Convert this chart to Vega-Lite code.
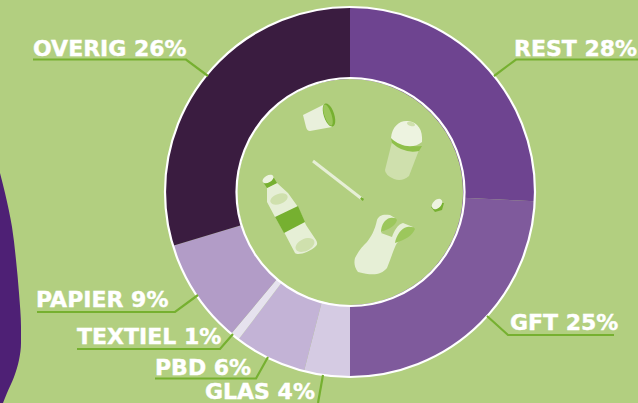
{"$schema":"https://vega.github.io/schema/vega-lite/v6.json","width":638,"height":403,"autosize":"none","padding":0,"background":"#b2cf80","config":{"view":{"stroke":null}},
"datasets":{
"slices":[{"name":"REST","share":25.8,"order":1},{"name":"GFT","share":24.2,"order":2},{"name":"GLAS","share":4.0,"order":3},{"name":"PBD","share":6.3,"order":4},{"name":"TEXTIEL","share":0.8,"order":5},{"name":"PAPIER","share":9.2,"order":6},{"name":"OVERIG","share":29.7,"order":7}],
"labels":[{"label":"OVERIG 26%","px":33,"py":56},{"label":"REST 28%","px":514,"py":56},{"label":"GFT 25%","px":510,"py":330},{"label":"PAPIER 9%","px":36,"py":307},{"label":"TEXTIEL 1%","px":77,"py":344},{"label":"PBD 6%","px":155,"py":375},{"label":"GLAS 4%","px":205,"py":399}],
"leaders":[{"k":"OVERIG","i":1,"px":33,"py":59.5},{"k":"OVERIG","i":2,"px":186,"py":59.5},{"k":"OVERIG","i":3,"px":208,"py":76},{"k":"REST","i":1,"px":638,"py":59.5},{"k":"REST","i":2,"px":516,"py":59.5},{"k":"REST","i":3,"px":494,"py":76},{"k":"GFT","i":1,"px":614,"py":335},{"k":"GFT","i":2,"px":508,"py":335},{"k":"GFT","i":3,"px":487,"py":316},{"k":"PAPIER","i":1,"px":37,"py":312},{"k":"PAPIER","i":2,"px":175,"py":312},{"k":"PAPIER","i":3,"px":198,"py":295},{"k":"TEXTIEL","i":1,"px":77,"py":349},{"k":"TEXTIEL","i":2,"px":220,"py":349},{"k":"TEXTIEL","i":3,"px":233,"py":334},{"k":"PBD","i":1,"px":155,"py":378.5},{"k":"PBD","i":2,"px":256,"py":378.5},{"k":"PBD","i":3,"px":268,"py":357},{"k":"GLAS","i":1,"px":323,"py":375},{"k":"GLAS","i":2,"px":318,"py":403}],
"blob":[{"ex":0,"ey":173},{"ex":5,"ey":193},{"ex":12,"ey":227},{"ex":16,"ey":260},{"ex":19,"ey":293},{"ex":21,"ey":327},{"ex":21,"ey":343},{"ex":19,"ey":360},{"ex":14,"ey":377},{"ex":7,"ey":393},{"ex":3,"ey":403}],
"parts":[
{"part":"bottleBody","ax":290,"ay":215},{"part":"bottleBand","ax":290,"ay":215},{"part":"bottleCap","ax":290,"ay":215},{"part":"bottleCapTop","ax":290,"ay":215},{"part":"bottleOvalA","ax":290,"ay":215},{"part":"bottleOvalB","ax":290,"ay":215},
{"part":"cupBody","ax":317,"ay":117},{"part":"cupRim","ax":317,"ay":117},{"part":"cupInner","ax":317,"ay":117},
{"part":"shakerBody","ax":404,"ay":150},{"part":"shakerBand","ax":404,"ay":150},{"part":"shakerLid","ax":404,"ay":150},{"part":"shakerHole","ax":404,"ay":150},
{"part":"straw","ax":338,"ay":180},{"part":"strawTip","ax":338,"ay":180},
{"part":"capSide","ax":438,"ay":206},{"part":"capTop","ax":438,"ay":206},
{"part":"bagBody","ax":385,"ay":245},{"part":"bagHandleA","ax":385,"ay":245},{"part":"bagHandleB","ax":385,"ay":245}]
},
"encoding":{},
"layer":[
{"data":{"name":"blob"},"mark":{"type":"area","orient":"horizontal","interpolate":"monotone","color":"#4e2075"},"encoding":{"y":{"field":"ey","type":"quantitative","scale":{"domain":[0,403],"reverse":true,"nice":false,"zero":false},"axis":null},"x":{"field":"ex","type":"quantitative","scale":{"domain":[0,638],"nice":false,"zero":false},"axis":null},"x2":{"datum":0}}},
{"data":{"name":"slices"},"mark":{"type":"arc","innerRadius":113,"outerRadius":185},"encoding":{"x":{"datum":350,"type":"quantitative"},"y":{"datum":192,"type":"quantitative"},"theta":{"field":"share","type":"quantitative","stack":true},"order":{"field":"order"},"color":{"field":"name","type":"nominal","legend":null,"scale":{"domain":["REST","GFT","GLAS","PBD","TEXTIEL","PAPIER","OVERIG"],"range":["#6e4490","#7f5a9c","#d5cbe3","#c3b3d6","#e6e2ee","#b29cc7","#3a1c40"]}}}},
{"data":{"values":[{"ring":"outer"}]},"mark":{"type":"point","filled":false,"stroke":"#ffffff","strokeWidth":2.2,"opacity":1,"size":136900},"encoding":{"x":{"datum":350,"type":"quantitative"},"y":{"datum":192,"type":"quantitative"}}},
{"data":{"values":[{"ring":"inner"}]},"mark":{"type":"point","filled":false,"stroke":"#ffffff","strokeWidth":2.2,"opacity":1,"size":51984},"encoding":{"x":{"datum":350.5,"type":"quantitative"},"y":{"datum":192,"type":"quantitative"}}},
{"data":{"name":"leaders"},"mark":{"type":"line","color":"#76b030","strokeWidth":2.2},"encoding":{"x":{"field":"px","type":"quantitative"},"y":{"field":"py","type":"quantitative"},"detail":{"field":"k"},"order":{"field":"i"}}},
{"data":{"name":"labels"},"mark":{"type":"text","align":"left","baseline":"alphabetic","font":"DejaVu Sans","fontWeight":"bold","fontSize":22,"fill":"#ffffff","stroke":"#ffffff","strokeWidth":0.4},"encoding":{"x":{"field":"px","type":"quantitative"},"y":{"field":"py","type":"quantitative"},"text":{"field":"label"}}},
{"data":{"name":"parts"},"mark":{"type":"point","filled":true,"opacity":1,"size":4,"strokeWidth":0},"encoding":{"x":{"field":"ax","type":"quantitative"},"y":{"field":"ay","type":"quantitative"},
"shape":{"field":"part","type":"nominal","legend":null,"scale":{"domain":["bottleBody","bottleBand","bottleCap","bottleCapTop","bottleOvalA","bottleOvalB","cupBody","cupRim","cupInner","shakerBody","shakerBand","shakerLid","shakerHole","straw","strawTip","capSide","capTop","bagBody","bagHandleA","bagHandleB"],
"range":[
"M-23,-27 L-23,-13 L-15,2 L-6,17 L5,38 C8,41 20,37 26,31 C28,29 27,27 26,25 L16,10 L8,-8 L-2,-22 L-13,-32 Z",
"M-15,2 L-6,18 L15,7 L8,-9 Z",
"M-27,-33 L-23,-27 L-13,-32 L-16,-37 Z",
"M-27.2,-33 A6,3.5,-30,1,1,-16.8,-39 A6,3.5,-30,1,1,-27.2,-33 Z",
"M-19.5,-12.9 A9,5,-20,1,1,-2.5,-19.1 A9,5,-20,1,1,-19.5,-12.9 Z",
"M5.9,34.2 A10,6,-25,1,1,24.1,25.8 A10,6,-25,1,1,5.9,34.2 Z",
"M-14,-2 L8,-13 L15,10 L-7,14 Q-10,14 -11,10 Z",
"M8.3,-13.4 A12,5,72,1,1,15.7,9.4 A12,5,72,1,1,8.3,-13.4 Z",
"M7.6,-12.5 A11,3.5,72,1,1,14.4,8.5 A11,3.5,72,1,1,7.6,-12.5 Z",
"M-12,-8 L15,0 L5,26 Q-2,32 -10,29 Q-19,25 -19,20 Z",
"M-13,-12 Q0,-2 18,-4 L15,1 Q0,4 -12,-7 Z",
"M-13,-12 C-12,-24 -4,-30 4,-29 C14,-28 19,-20 18,-8 C10,-1 -4,-3 -13,-12 Z",
"M3,-27 A4,2,15,1,1,11,-25 A4,2,15,1,1,3,-27 Z",
"M-25.9,-17.8 L23.1,20.2 L24.9,17.8 L-24.1,-20.2 Z",
"M22,19 L24.9,21 L26,19 L23.5,17 Z",
"M-7,1 L-3,6 L4,4 L6,-3 L2,-3 Z",
"M-5.2,2.2 A6,3.5,-45,1,1,3.2,-6.2 A6,3.5,-45,1,1,-5.2,2.2 Z",
"M-30,13 C-26,5 -22,1 -18,-3 C-14,-8 -10,-15 -8,-25 C-6,-30 -2,-31 5,-30 L10,-27 L-4,-12 L7,-8 C9,-14 13,-21 18,-22 L28,-18 L12,-2 C9,3 8,8 2,23 C-4,30 -12,31 -27,27 C-31,22 -31,17 -30,13 Z",
"M-4,-13 C-4,-20 0,-26 5,-27 C9,-27.5 11,-27 12,-25 C11,-20 5,-16 -4,-13 Z",
"M10,-2 C11,-9 16,-17 22,-18 C26,-18.5 29,-18 30,-16 C27,-9 20,-5 10,-2 Z"
]}},
"fill":{"field":"part","type":"nominal","legend":null,"scale":{"domain":["bottleBody","bottleBand","bottleCap","bottleCapTop","bottleOvalA","bottleOvalB","cupBody","cupRim","cupInner","shakerBody","shakerBand","shakerLid","shakerHole","straw","strawTip","capSide","capTop","bagBody","bagHandleA","bagHandleB"],"range":["#e6efd6","#76b030","#76b030","#edf3e0","#cfe0ad","#cfe0ad","#e9f0dc","#76b030","#9cc75c","#cfe0ad","#8fc04a","#edf3e0","#cfe0ad","#e6efd6","#76b030","#76b030","#edf3e0","#e6efd6","#9cc75c","#9cc75c"]}}}}
],
"resolve":{"scale":{"color":"independent","fill":"independent"}}}
